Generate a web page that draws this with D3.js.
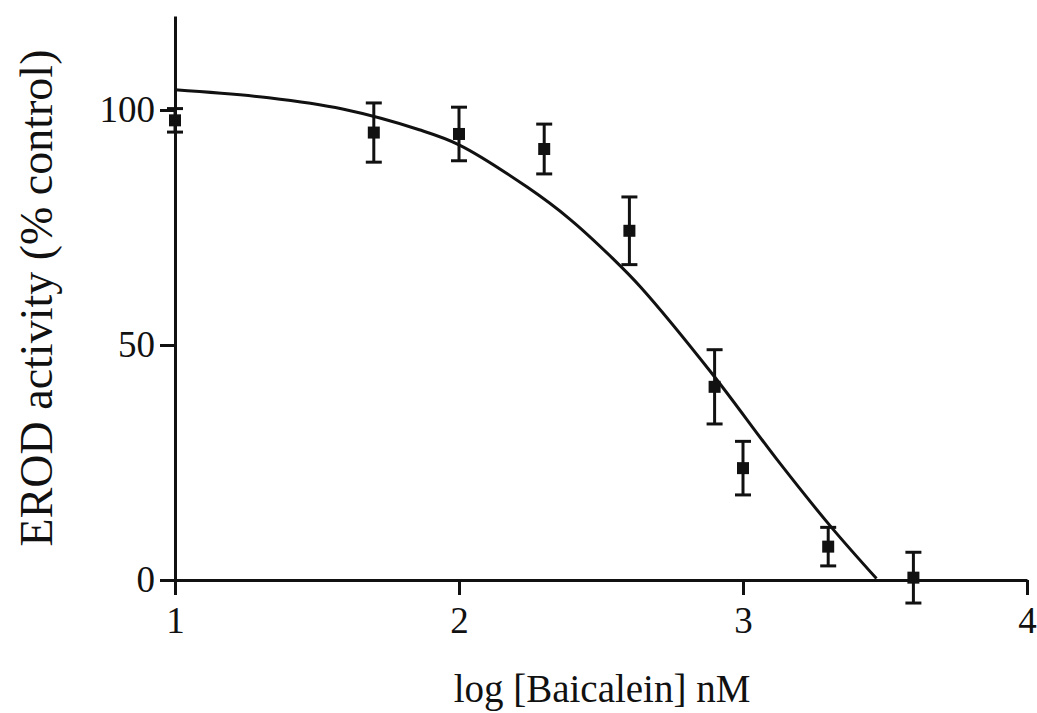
<!DOCTYPE html>
<html>
<head>
<meta charset="utf-8">
<script src="https://cdn.jsdelivr.net/npm/d3@7"></script>
<style>
  html, body { margin: 0; padding: 0; background: #ffffff; }
  svg { display: block; }
</style>
</head>
<body>
<svg id="chart" width="1037" height="713"></svg>
<script>
// Data
const logConc = [1.0, 1.7, 2.0, 2.3, 2.6, 2.9, 3.0, 3.3, 3.6];
const erodMean = [97.8, 95.2, 94.9, 91.7, 74.3, 41.1, 23.8, 7.1, 0.5];
const erodErr = [2.5, 6.3, 5.7, 5.3, 7.2, 7.9, 5.7, 4.1, 5.4];

// Fitted curve
const curveX = [1.0, 1.33, 1.59, 1.86, 2.0, 2.24, 2.39, 2.54, 2.64, 2.89, 3.12, 3.31, 3.47];
const curveY = [104.3, 102.6, 100.2, 95.8, 92.6, 83.6, 76.8, 68.5, 62.3, 44.0, 25.6, 11.3, 0.3];

const xTicks = [1, 2, 3, 4];
const yTicks = [0, 50, 100];
const xDomain = [1, 4];
const yDomain = [0, 120];
const xTitle = "log [Baicalein] nM";
const yTitle = "EROD activity (% control)";

const serif = '"Liberation Serif", "Times New Roman", "DejaVu Serif", serif';
const svg = d3.select("#chart");
const x = d3.scaleLinear().domain(xDomain).range([175, 1027]);
const y = d3.scaleLinear().domain(yDomain).range([580, 16]);

const ink = "#111";
const lw = 3;

// Axes
const xAxis = svg.append("g")
  .attr("transform", `translate(0,${y(0)})`)
  .call(d3.axisBottom(x).tickValues(xTicks).tickFormat(d3.format("d"))
    .tickSize(15).tickSizeOuter(0).tickPadding(12));
const yAxis = svg.append("g")
  .attr("transform", `translate(${x(1)},0)`)
  .call(d3.axisLeft(y).tickValues(yTicks).tickFormat(d3.format("d"))
    .tickSize(15).tickSizeOuter(0).tickPadding(5));

[xAxis, yAxis].forEach(g => {
  g.attr("font-family", serif);
  g.select(".domain").attr("stroke", ink).attr("stroke-width", lw);
  g.selectAll(".tick line").attr("stroke", ink).attr("stroke-width", lw);
  g.selectAll(".tick text").attr("fill", ink)
    .style("font-family", serif)
    .style("font-size", "37px");
});

// Curve
const line = d3.line()
  .x((d, i) => x(curveX[i]))
  .y((d, i) => y(curveY[i]))
  .curve(d3.curveCatmullRom.alpha(0.5));
svg.append("path")
  .datum(curveX)
  .attr("d", line)
  .attr("fill", "none")
  .attr("stroke", ink)
  .attr("stroke-width", lw);

// Error bars
const capW = 8;
const pts = logConc.map((v, i) => ({ x: v, y: erodMean[i], e: erodErr[i] }));
const eb = svg.append("g").attr("stroke", ink).attr("stroke-width", lw);
eb.selectAll("line.v").data(pts).join("line")
  .attr("x1", d => x(d.x)).attr("x2", d => x(d.x))
  .attr("y1", d => y(d.y + d.e)).attr("y2", d => y(d.y - d.e));
eb.selectAll("line.t").data(pts).join("line")
  .attr("x1", d => x(d.x) - capW).attr("x2", d => x(d.x) + capW)
  .attr("y1", d => y(d.y + d.e)).attr("y2", d => y(d.y + d.e));
eb.selectAll("line.b").data(pts).join("line")
  .attr("x1", d => x(d.x) - capW).attr("x2", d => x(d.x) + capW)
  .attr("y1", d => y(d.y - d.e)).attr("y2", d => y(d.y - d.e));

// Markers
const ms = 12;
svg.append("g").selectAll("rect").data(pts).join("rect")
  .attr("x", d => x(d.x) - ms / 2)
  .attr("y", d => y(d.y) - ms / 2)
  .attr("width", ms).attr("height", ms)
  .attr("fill", ink);

// Titles
svg.append("text")
  .attr("x", 602).attr("y", 702)
  .attr("text-anchor", "middle")
  .attr("fill", ink)
  .style("font-family", serif)
  .style("font-size", "39px")
  .text(xTitle);
svg.append("text")
  .attr("transform", "translate(52,298) rotate(-90)")
  .attr("text-anchor", "middle")
  .attr("fill", ink)
  .style("font-family", serif)
  .style("font-size", "46px")
  .text(yTitle);
</script>
</body>
</html>
